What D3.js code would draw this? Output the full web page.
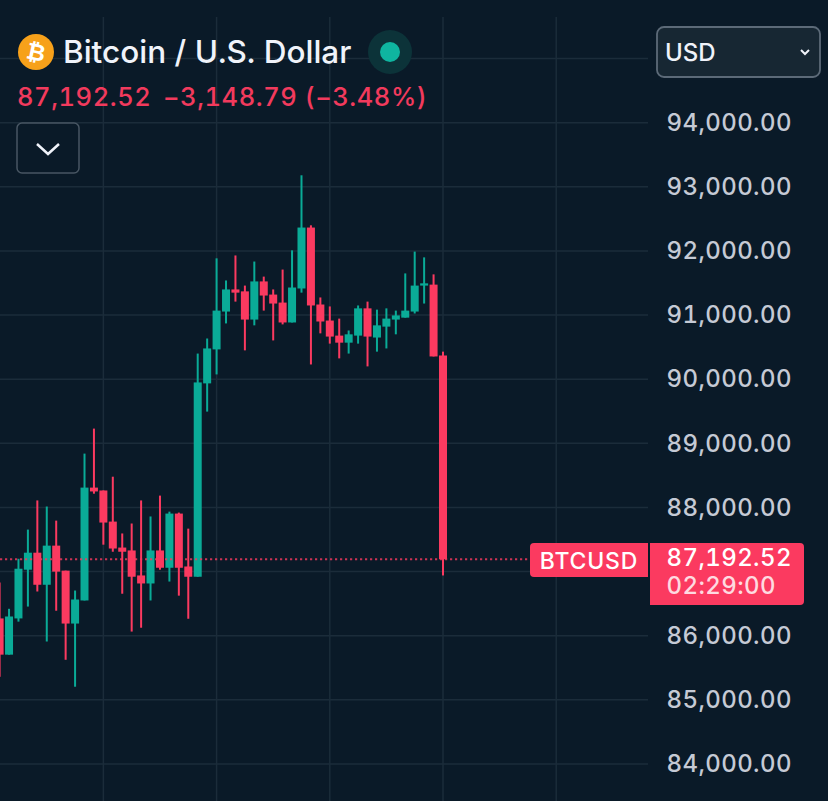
<!DOCTYPE html>
<html>
<head>
<meta charset="utf-8">
<script src="https://cdn.jsdelivr.net/npm/d3@7"></script>
<style>
  html, body { margin: 0; padding: 0; background: #0a1a28; overflow: hidden; }
  svg { display: block; font-family: Inter, "Noto Sans", sans-serif; font-variant-numeric: tabular-nums; font-feature-settings: "tnum"; }
  .price-axis path, .price-axis line { display: none; }
</style>
</head>
<body>
<div id="chart"></div>
<script>
// candles, oldest first
const opens = [86270, 85705, 86270, 87030, 87295, 86795, 87405, 87015, 86190, 86550, 88310, 88265,
  87780, 87375, 87330, 86940, 86815, 87330, 87060, 87905, 87080, 86920, 89935, 90465,
  91055, 91400, 91370, 90930, 91525, 91320, 91195, 90885, 91415, 92365, 91165, 90915,
  90680, 90570, 90680, 91105, 90650, 90820, 90930, 90960, 91055, 91460, 91475, 90370];
const highs = [86830, 86420, 87200, 87655, 88110, 88015, 87795, 87015, 86705, 88840, 89230, 88265,
  88480, 87595, 87750, 88110, 87860, 88185, 87935, 87920, 87670, 90400, 90635, 91885,
  91540, 91930, 91460, 91835, 91600, 91400, 91710, 92010, 93180, 92400, 91275, 91135,
  90945, 90760, 91150, 91210, 91085, 91105, 91070, 91650, 91990, 91900, 91635, 90430];
const lows = [85360, 85705, 86220, 86455, 86690, 85910, 86390, 85625, 85205, 86550, 88215, 87420,
  87310, 86655, 86065, 86125, 86550, 87030, 86845, 86625, 86265, 86920, 89495, 90075,
  90870, 91210, 90450, 90840, 91070, 90605, 90855, 90885, 91350, 90230, 90715, 90555,
  90325, 90400, 90555, 90200, 90430, 90480, 90700, 90960, 91025, 91180, 90355, 86940];
const closes = [85705, 86300, 87045, 87295, 86795, 87405, 87000, 86190, 86565, 88310, 88250, 87765,
  87360, 87310, 86920, 86815, 87330, 87060, 87905, 87060, 86920, 89950, 90480, 91070,
  91400, 91350, 90930, 91525, 91305, 91180, 90885, 91430, 92365, 91150, 90900, 90665,
  90570, 90700, 91105, 90665, 90840, 90945, 90995, 91070, 91460, 91495, 90355, 87192.52];

const priceTicks = [84000, 85000, 86000, 87000, 88000, 89000, 90000, 91000, 92000, 93000, 94000];
const hiddenGridPrices = [95000];
const timeGridIndex = [11, 23, 35, 47, 59];
const lastPrice = 87192.52;

const width = 828, height = 801, plotRight = 648;
const up = "#0aab97", down = "#fb3a60", bg = "#0a1a28", grid = "#1b2c3a";

const x = d3.scaleLinear().domain([0, 47]).range([-0.4, 443]);
const y = d3.scaleLinear().domain([84000, 94000]).range([764, 122.7]);

const svg = d3.select("#chart").append("svg")
  .attr("width", width)
  .attr("height", height);

svg.append("rect").attr("width", width).attr("height", height).attr("fill", bg);

// grid
svg.append("g").selectAll("line")
  .data(priceTicks.concat(hiddenGridPrices))
  .enter().append("line")
  .attr("x1", 0).attr("x2", plotRight)
  .attr("y1", d => y(d)).attr("y2", d => y(d))
  .attr("stroke", grid).attr("stroke-width", 1.5);

svg.append("g").selectAll("line")
  .data(timeGridIndex)
  .enter().append("line")
  .attr("x1", d => x(d)).attr("x2", d => x(d))
  .attr("y1", 17).attr("y2", height)
  .attr("stroke", grid).attr("stroke-width", 1.5);

// candles
const candles = opens.map((o, i) => ({ i: i, o: o, h: highs[i], l: lows[i], c: closes[i] }));
const colour = d => d.c >= d.o ? up : down;
const bodyW = 8, wickW = 2;

const candle = svg.append("g").selectAll("g")
  .data(candles)
  .enter().append("g")
  .attr("fill", colour);

candle.append("rect")
  .attr("x", d => x(d.i) - wickW / 2)
  .attr("width", wickW)
  .attr("y", d => y(d.h))
  .attr("height", d => y(d.l) - y(d.h));

candle.append("rect")
  .attr("x", d => x(d.i) - bodyW / 2)
  .attr("width", bodyW)
  .attr("y", d => y(Math.max(d.o, d.c)))
  .attr("height", d => Math.max(2, y(Math.min(d.o, d.c)) - y(Math.max(d.o, d.c))));

// last price line
svg.append("line")
  .attr("x1", 0).attr("x2", 530)
  .attr("y1", y(lastPrice)).attr("y2", y(lastPrice))
  .attr("stroke", down).attr("stroke-width", 2.2)
  .attr("stroke-dasharray", "2.2 2.8")
  .attr("opacity", 0.8);

// price axis
const yAxis = d3.axisRight(y)
  .tickValues(priceTicks.filter(d => d !== 87000))
  .tickSize(0)
  .tickPadding(0)
  .tickFormat(d3.format(",.2f"));

svg.append("g")
  .attr("class", "price-axis")
  .attr("transform", "translate(666.5,0)")
  .call(yAxis)
  .call(g => g.selectAll("text")
    .attr("fill", "#c5cad5")
    .attr("font-family", "Inter, sans-serif")
    .attr("font-size", 24)
    .attr("font-weight", 500)
    .attr("letter-spacing", 0.4));

// last price labels
svg.append("path")
  .attr("d", "M648,543H534a4,4 0 0 0 -4,4V573a4,4 0 0 0 4,4H648Z")
  .attr("fill", down);
svg.append("text").attr("x", 589).attr("y", 569)
  .attr("text-anchor", "middle")
  .attr("fill", "#fff").attr("font-size", 23).attr("font-weight", 500)
  .attr("letter-spacing", 0.8)
  .text("BTCUSD");

svg.append("path")
  .attr("d", "M650,543H800a4,4 0 0 1 4,4V601a4,4 0 0 1 -4,4H650Z")
  .attr("fill", down);
svg.append("text").attr("x", 666.5).attr("y", 566)
  .attr("fill", "#fff").attr("font-size", 24).attr("font-weight", 500)
  .attr("letter-spacing", 0.4)
  .text(d3.format(",.2f")(lastPrice));
svg.append("text").attr("x", 666.5).attr("y", 594)
  .attr("fill", "#fff").attr("fill-opacity", 0.82)
  .attr("font-size", 24).attr("font-weight", 500)
  .attr("letter-spacing", 0.4)
  .text("02:29:00");

// header
svg.append("circle").attr("cx", 36).attr("cy", 52).attr("r", 18).attr("fill", "#f7a11a");
svg.append("text").attr("x", 36).attr("y", 60)
  .attr("text-anchor", "middle")
  .attr("transform", "rotate(12 36 52)")
  .attr("fill", "#fff")
  .attr("font-family", "DejaVu Sans, sans-serif")
  .attr("font-size", 23).attr("font-weight", 700)
  .text("₿");

svg.append("text").attr("x", 63).attr("y", 63)
  .attr("fill", "#f0f3fa").attr("font-size", 31.5).attr("font-weight", 500)
  .text("Bitcoin / U.S. Dollar");

svg.append("circle").attr("cx", 390).attr("cy", 52).attr("r", 22).attr("fill", "#0c3339");
svg.append("circle").attr("cx", 390).attr("cy", 52).attr("r", 10).attr("fill", "#0fb5a0");

svg.append("text").attr("x", 17).attr("y", 106)
  .attr("fill", "#f23a5d").attr("font-size", 25.5).attr("font-weight", 500)
  .attr("letter-spacing", 0.55)
  .text("87,192.52");
svg.append("text").attr("x", 163).attr("y", 106)
  .attr("fill", "#f23a5d").attr("font-size", 25.5).attr("font-weight", 500)
  .attr("letter-spacing", 0.55)
  .text("−3,148.79 (−3.48%)");

// collapse button
svg.append("rect")
  .attr("x", 17).attr("y", 123).attr("width", 62).attr("height", 50).attr("rx", 5)
  .attr("fill", bg).attr("stroke", "#485663").attr("stroke-width", 1.5);
svg.append("path")
  .attr("d", "M37,144L48,154L59,144")
  .attr("fill", "none").attr("stroke", "#f0f3fa").attr("stroke-width", 2.5);

// currency select
svg.append("rect")
  .attr("x", 657).attr("y", 27).attr("width", 163).attr("height", 50).attr("rx", 7)
  .attr("fill", "#172733").attr("stroke", "#5c6a78").attr("stroke-width", 1.8);
svg.append("text").attr("x", 665).attr("y", 61)
  .attr("fill", "#f0f3fa").attr("font-size", 24).attr("font-weight", 500)
  .text("USD");
svg.append("path")
  .attr("d", "M801,50L805,54L809,50")
  .attr("fill", "none").attr("stroke", "#f0f3fa").attr("stroke-width", 2);
</script>
</body>
</html>
